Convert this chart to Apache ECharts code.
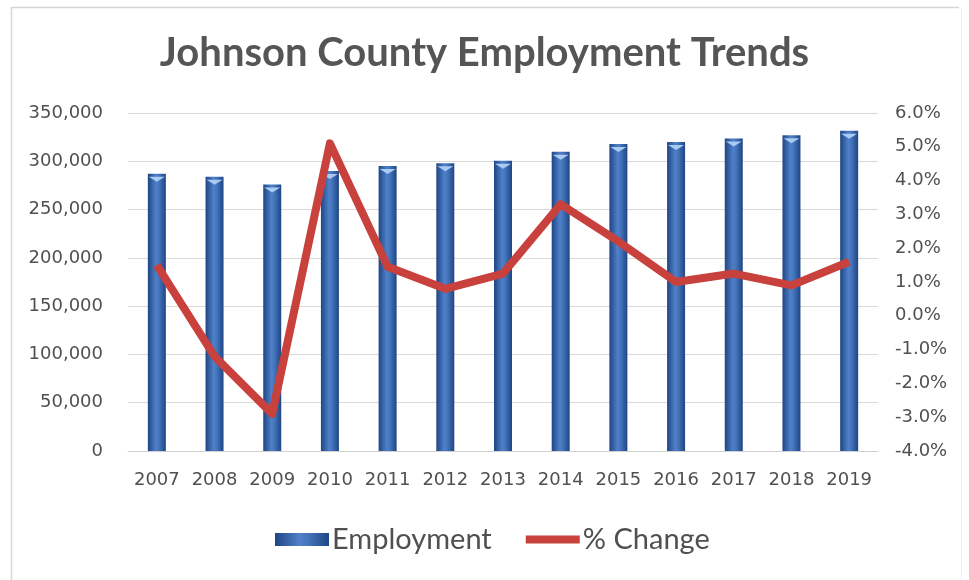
<!DOCTYPE html>
<html>
<head>
<meta charset="utf-8">
<script src="https://cdn.jsdelivr.net/npm/echarts@6/dist/echarts.min.js"></script>
<style>
  html, body { margin: 0; padding: 0; background: #ffffff; }
  #chart { width: 969px; height: 580px; }
</style>
</head>
<body>
<div id="chart"></div>
<script>
// Years on the category axis
const years = ['2007', '2008', '2009', '2010', '2011', '2012', '2013',
               '2014', '2015', '2016', '2017', '2018', '2019'];

// Total employment per year (left axis)
const employment = [287000, 284000, 276000, 290000, 295000, 298000, 300500,
                    310000, 318000, 320000, 323500, 327000, 331500];

// Year-over-year change in percent (right axis)
const pctChange = [1.5, -1.2, -2.9, 5.1, 1.45, 0.8, 1.25,
                   3.3, 2.2, 1.0, 1.25, 0.9, 1.6];

// Axis settings
const empTicks = { min: 0, max: 350000, interval: 50000 };
const pctTicks = { min: -4, max: 6, interval: 1 };

const textGrey = '#505050';
const labelFont = 'DejaVu Sans';

const chart = echarts.init(document.getElementById('chart'), null, { renderer: 'canvas' });

const cylinder = new echarts.graphic.LinearGradient(0, 0, 1, 0, [
  { offset: 0, color: '#1f4584' },
  { offset: 0.45, color: '#4f80c8' },
  { offset: 0.6, color: '#4677be' },
  { offset: 1, color: '#1f4584' }
]);

chart.setOption({
  backgroundColor: '#ffffff',
  animation: false,
  title: {
    text: 'Johnson County Employment Trends',
    left: 'center',
    top: 28,
    textStyle: {
      fontFamily: 'Lato',
      fontWeight: 'bold',
      fontSize: 40,
      color: '#555555'
    }
  },
  graphic: [
    { type: 'line', shape: { x1: 11, y1: 7.5, x2: 959, y2: 7.5 }, style: { stroke: '#d6d6d6', lineWidth: 1.5 } },
    { type: 'line', shape: { x1: 11.5, y1: 7, x2: 11.5, y2: 580 }, style: { stroke: '#d6d6d6', lineWidth: 1.5 } },
    { type: 'line', shape: { x1: 961.5, y1: 7, x2: 961.5, y2: 580 }, style: { stroke: '#f0f0f0', lineWidth: 1 } }
  ],
  legend: {
    left: 270,
    bottom: 21,
    itemGap: 34,
    itemWidth: 54,
    itemHeight: 13,
    textStyle: { fontFamily: 'Lato', fontSize: 29, color: '#505050', padding: [0, 0, 0, -2] },
    data: [
      { name: 'Employment', icon: 'rect' },
      // thick red stroke, vertically centred in the icon box
      { name: '% Change', icon: 'path://M0,0 M0,2.5 L54,2.5 L54,10.5 L0,10.5 Z M54,13' }
    ]
  },
  grid: { left: 128, right: 91, top: 113, bottom: 129, containLabel: false },
  xAxis: {
    type: 'category',
    data: years,
    axisLine: { lineStyle: { color: '#d0d0d0', width: 1 } },
    axisTick: { show: false },
    axisLabel: { interval: 0, color: textGrey, fontFamily: labelFont, fontSize: 18, margin: 20 }
  },
  yAxis: [
    {
      type: 'value',
      min: empTicks.min, max: empTicks.max, interval: empTicks.interval,
      axisLine: { show: false },
      axisTick: { show: false },
      splitLine: { lineStyle: { color: '#d9d9d9', width: 1 } },
      axisLabel: {
        color: textGrey, fontFamily: labelFont, fontSize: 18, margin: 25,
        formatter: v => v.toLocaleString('en-US')
      }
    },
    {
      type: 'value',
      min: pctTicks.min, max: pctTicks.max, interval: pctTicks.interval,
      axisLine: { show: false },
      axisTick: { show: false },
      splitLine: { show: false },
      axisLabel: {
        color: textGrey, fontFamily: labelFont, fontSize: 18, margin: 17,
        formatter: v => v.toFixed(1) + '%'
      }
    }
  ],
  series: [
    {
      name: 'Employment',
      type: 'bar',
      data: employment,
      barWidth: 18,
      itemStyle: { color: cylinder },
      z: 2
    },
    {
      // light cap on top of each column
      name: 'Employment',
      type: 'pictorialBar',
      data: employment,
      symbol: 'path://M0,0 L20,0 L10,8 Z',
      symbolSize: [16, 5],
      symbolPosition: 'end',
      symbolOffset: [0, 3],
      itemStyle: { color: '#a9caf2' },
      z: 3,
      legendHoverLink: false,
      tooltip: { show: false }
    },
    {
      name: '% Change',
      type: 'line',
      yAxisIndex: 1,
      data: pctChange,
      showSymbol: false,
      symbol: 'none',
      lineStyle: { color: '#c8413c', width: 8, join: 'round' },
      itemStyle: { color: '#c8413c' },
      z: 5
    }
  ]
});
</script>
</body>
</html>
